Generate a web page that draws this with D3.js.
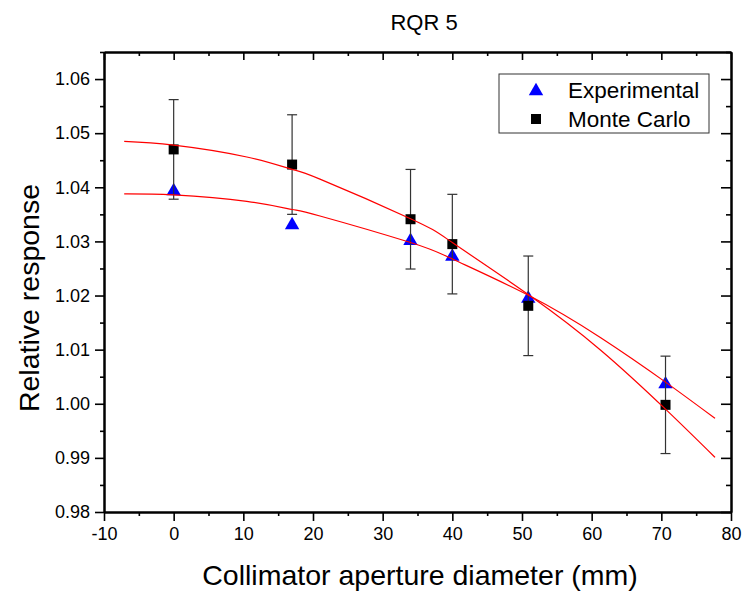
<!DOCTYPE html>
<html>
<head>
<meta charset="utf-8">
<script src="https://cdn.jsdelivr.net/npm/d3@7"></script>
<style>
  body { margin: 0; background: #fff; }
  text { font-family: "Liberation Sans", Arial, sans-serif; fill: #000; }
</style>
</head>
<body>
<div id="chart"></div>
<script>
// measured points (collimator aperture diameter, mm)
var apertures = [0, 17, 34, 40, 50.9, 70.6];
var experimental = [1.0395, 1.0332, 1.0303, 1.0274, 1.0196, 1.0038];
var monteCarlo = [1.0470, 1.0442, 1.0341, 1.0295, 1.0181, 0.9998];
var monteCarloErr = [0.0092, 0.0092, 0.0092, 0.0092, 0.0092, 0.0090];

// fitted curves
var fitX = [-7.1, 0, 10.5, 17, 21, 34, 40.1, 51, 61.3, 70.6, 77.7];
var fitExp = [1.0388, 1.0386, 1.0374, 1.0359, 1.0347, 1.0298, 1.0267, 1.0200, 1.0122, 1.0040, 0.9973];
var fitMC = [1.0485, 1.0478, 1.0456, 1.0433, 1.0415, 1.0342, 1.0297, 1.0201, 1.0099, 0.9990, 0.9901];

var xTicks = [-10, 0, 10, 20, 30, 40, 50, 60, 70, 80];
var yTicks = [0.98, 0.99, 1.00, 1.01, 1.02, 1.03, 1.04, 1.05, 1.06];

var margin = {top: 52, right: 15, bottom: 85, left: 104},
    width = 746 - margin.left - margin.right,
    height = 597 - margin.top - margin.bottom;

var x = d3.scaleLinear().domain([-10, 80]).range([0, width]);
var y = d3.scaleLinear().domain([0.98, 1.065]).range([height, 0]);

var svg = d3.select("#chart").append("svg")
    .attr("width", 746)
    .attr("height", 597)
  .append("g")
    .attr("transform", "translate(" + margin.left + "," + margin.top + ")");

var xMinor = d3.range(-5, 80, 10);
var yMinor = d3.range(0.985, 1.066, 0.01);

// bottom axis, ticks outward
var gx = svg.append("g")
    .attr("transform", "translate(0," + height + ")")
    .call(d3.axisBottom(x).tickValues(xTicks).tickSize(9).tickSizeOuter(0).tickPadding(6)
      .tickFormat(function(d) { return String(d); }));
gx.append("g").call(d3.axisBottom(x).tickValues(xMinor).tickSize(4).tickSizeOuter(0).tickFormat(""));

// left axis, ticks outward
var gy = svg.append("g")
    .call(d3.axisLeft(y).tickValues(yTicks).tickSize(9).tickSizeOuter(0).tickPadding(5).tickFormat(d3.format(".2f")));
gy.append("g").call(d3.axisLeft(y).tickValues(yMinor).tickSize(4).tickSizeOuter(0).tickFormat(""));

// top and right axes, ticks inward
var gt = svg.append("g")
    .call(d3.axisTop(x).tickValues(xTicks).tickSize(-8).tickSizeOuter(0).tickFormat(""));
gt.append("g").call(d3.axisTop(x).tickValues(xMinor).tickSize(-4).tickSizeOuter(0).tickFormat(""));

var gr = svg.append("g")
    .attr("transform", "translate(" + width + ",0)")
    .call(d3.axisRight(y).tickValues(yTicks).tickSize(-10).tickSizeOuter(0).tickFormat(""));
gr.append("g").call(d3.axisRight(y).tickValues(yMinor).tickSize(-5).tickSizeOuter(0).tickFormat(""));

svg.selectAll(".domain").attr("stroke", "#000").attr("stroke-width", 2);
svg.selectAll(".tick line").attr("stroke", "#000").attr("stroke-width", 1.6);
svg.selectAll(".tick text").style("font-size", "18px").style("font-family", "'Liberation Sans', Arial, sans-serif");

var triangle = d3.symbol().type(d3.symbolTriangle).size(90);

// experimental triangles
svg.selectAll(".tri")
    .data(apertures)
  .enter().append("path")
    .attr("class", "tri")
    .attr("d", triangle)
    .attr("transform", function(d, i) { return "translate(" + x(d) + "," + (y(experimental[i]) + 1) + ")"; })
    .attr("fill", "#0000ff");

// Monte Carlo error bars
var err = svg.selectAll(".err")
    .data(apertures)
  .enter().append("g")
    .attr("class", "err")
    .attr("stroke", "#333")
    .attr("stroke-width", 1.2);

err.append("line")
    .attr("x1", function(d) { return x(d); })
    .attr("x2", function(d) { return x(d); })
    .attr("y1", function(d, i) { return y(monteCarlo[i] + monteCarloErr[i]); })
    .attr("y2", function(d, i) { return y(monteCarlo[i] - monteCarloErr[i]); });
err.append("line")
    .attr("x1", function(d) { return x(d) - 5; })
    .attr("x2", function(d) { return x(d) + 5; })
    .attr("y1", function(d, i) { return y(monteCarlo[i] + monteCarloErr[i]); })
    .attr("y2", function(d, i) { return y(monteCarlo[i] + monteCarloErr[i]); });
err.append("line")
    .attr("x1", function(d) { return x(d) - 5; })
    .attr("x2", function(d) { return x(d) + 5; })
    .attr("y1", function(d, i) { return y(monteCarlo[i] - monteCarloErr[i]); })
    .attr("y2", function(d, i) { return y(monteCarlo[i] - monteCarloErr[i]); });

// Monte Carlo squares
svg.selectAll(".sq")
    .data(apertures)
  .enter().append("rect")
    .attr("class", "sq")
    .attr("x", function(d) { return x(d) - 5; })
    .attr("y", function(d, i) { return y(monteCarlo[i]) - 5; })
    .attr("width", 10)
    .attr("height", 10)
    .attr("fill", "#000");

// fit lines
var line = d3.line()
    .x(function(d) { return x(d[0]); })
    .y(function(d) { return y(d[1]); })
    .curve(d3.curveNatural);

[fitExp, fitMC].forEach(function(series) {
  svg.append("path")
      .datum(fitX.map(function(v, i) { return [v, series[i]]; }))
      .attr("fill", "none")
      .attr("stroke", "#ff0000")
      .attr("stroke-width", 1.2)
      .attr("d", line);
});

// legend
var legend = svg.append("g")
    .attr("transform", "translate(" + (499 - margin.left) + "," + (74 - margin.top) + ")");
legend.append("rect")
    .attr("width", 210)
    .attr("height", 59)
    .attr("fill", "#fff")
    .attr("stroke", "#333")
    .attr("stroke-width", 1);
legend.append("path")
    .attr("d", triangle)
    .attr("transform", "translate(37,17)")
    .attr("fill", "#0000ff");
legend.append("rect")
    .attr("x", 32).attr("y", 40)
    .attr("width", 10).attr("height", 10)
    .attr("fill", "#000");
legend.append("text")
    .attr("x", 69).attr("y", 24)
    .style("font-size", "22.5px")
    .text("Experimental");
legend.append("text")
    .attr("x", 69).attr("y", 53)
    .style("font-size", "22.5px")
    .text("Monte Carlo");

// title
svg.append("text")
    .attr("x", 424 - margin.left)
    .attr("y", 30 - margin.top)
    .attr("text-anchor", "middle")
    .style("font-size", "22px")
    .text("RQR 5");

// text label for the x axis
svg.append("text")
    .attr("x", 420 - margin.left)
    .attr("y", height + 73)
    .attr("text-anchor", "middle")
    .style("font-size", "28.5px")
    .text("Collimator aperture diameter (mm)");

// text label for the y axis
svg.append("text")
    .attr("transform", "rotate(-90)")
    .attr("x", 0 - (298 - margin.top))
    .attr("y", 39 - margin.left)
    .attr("text-anchor", "middle")
    .style("font-size", "28.5px")
    .text("Relative response");
</script>
</body>
</html>
